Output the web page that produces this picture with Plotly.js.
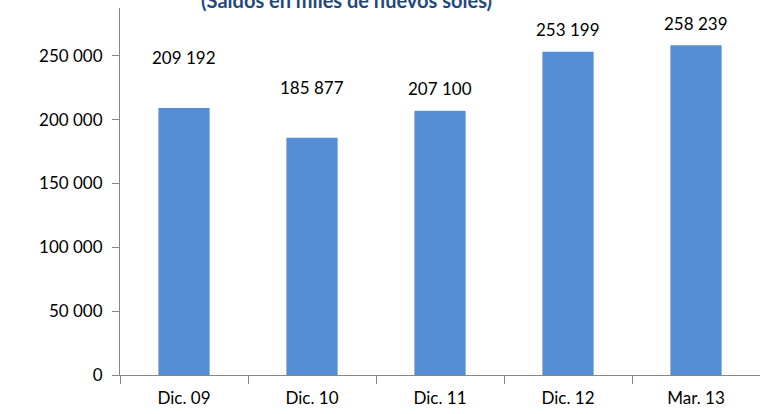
<!DOCTYPE html>
<html>
<head>
<meta charset="utf-8">
<script src="https://cdn.plot.ly/plotly-3.0.1.min.js"></script>
<style>
  html, body { margin: 0; padding: 0; background: #fff; }
  #chart { width: 760px; height: 414px; }
</style>
</head>
<body>
<div id="chart"></div>
<script>
"use strict";

// data
var categories = ["Dic. 09", "Dic. 10", "Dic. 11", "Dic. 12", "Mar. 13"];
var saldos = [209192, 185877, 207100, 253199, 258239];
var yTicks = [0, 50000, 100000, 150000, 200000, 250000];

var chartTitle = "(Saldos en miles de nuevos soles)";

// labels were nudged by hand in the original, keep that look
var labelShift = [50, 50, 22, 22, 22];

var font = "Lato, 'Open Sans', sans-serif";

function fmt(v){
    return String(v).replace(/\B(?=(\d{3})+(?!\d))/g, " ");
}

var trace = {
    x: categories,
    y: saldos,
    type: "bar",
    marker: { color: "#558ED5" },
    hoverinfo: "none"
};

var labels = categories.map(function(c, i){
    return {
        x: c,
        y: saldos[i],
        text: fmt(saldos[i]),
        showarrow: false,
        yanchor: "middle",
        yshift: labelShift[i],
        font: { family: font, size: 17, color: "#000" }
    };
});

var layout = {
    width: 760,
    height: 414,
    margin: { l: 120, r: 0, t: 8, b: 39 },
    paper_bgcolor: "#fff",
    plot_bgcolor: "#fff",
    separators: ", ",
    showlegend: false,
    bargap: 0.6,
    font: { family: font, size: 17, color: "#000" },
    title: {
        text: "<b>" + chartTitle + "</b>",
        font: { family: font, size: 20, color: "#1F497D" },
        x: 0.456,
        xanchor: "center",
        xref: "container",
        y: 0.998,
        yref: "container",
        yanchor: "middle"
    },
    xaxis: {
        type: "category",
        tickson: "boundaries",
        ticks: "outside",
        ticklen: 8,
        tickcolor: "#868686",
        showline: true,
        linecolor: "#868686",
        linewidth: 1,
        showgrid: false,
        zeroline: false,
        ticklabelstandoff: 8,
        tickfont: { family: font, size: 17, color: "#000" },
        fixedrange: true
    },
    yaxis: {
        range: [0, 287500],
        tickvals: yTicks,
        ticktext: yTicks.map(fmt),
        ticks: "outside",
        ticklen: 7,
        tickcolor: "#868686",
        showline: true,
        linecolor: "#868686",
        linewidth: 1,
        showgrid: false,
        zeroline: false,
        ticklabelstandoff: 6,
        tickfont: { family: font, size: 17, color: "#000" },
        fixedrange: true
    },
    annotations: labels
};

Plotly.newPlot("chart", [trace], layout, { displayModeBar: false, staticPlot: true });
</script>
</body>
</html>
